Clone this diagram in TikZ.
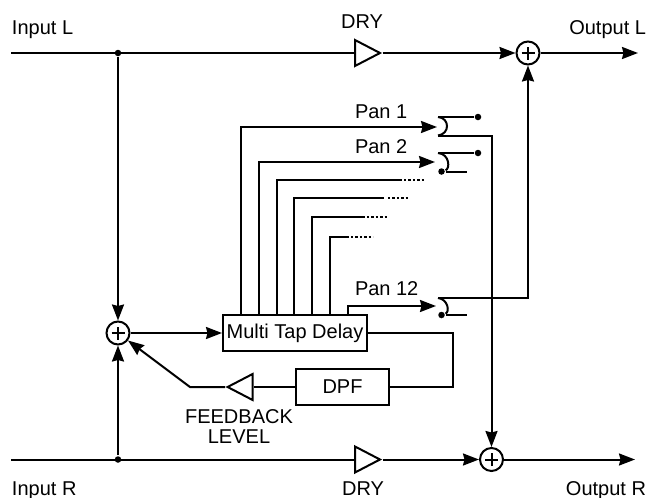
\documentclass[tikz,border=0pt]{standalone}
\usepackage{fontspec}
\setmainfont{Liberation Sans}
\usetikzlibrary{shapes, shapes.geometric, arrows.meta, positioning}

\begin{document}
\begin{tikzpicture}[x=1pt, y=-1pt, >={Stealth[length=16pt,width=12pt,inset=1.5pt]}, line width=2pt]

\tikzstyle{block} = [rectangle, draw=black, inner sep=0pt, font=\fontsize{20}{24}\selectfont]
\tikzstyle{label} = [inner sep=0pt, anchor=base west, font=\fontsize{20}{24}\selectfont]
\tikzstyle{sum} = [circle, draw=black, minimum size=23pt, inner sep=0pt, path picture={\draw ([xshift=-6.5pt]path picture bounding box.center) -- ([xshift=6.5pt]path picture bounding box.center); \draw ([yshift=-6.5pt]path picture bounding box.center) -- ([yshift=6.5pt]path picture bounding box.center);}]
\tikzstyle{amp} = [isosceles triangle, isosceles triangle stretches, draw=black, inner sep=0pt, minimum height=25pt, minimum width=26pt]
\tikzstyle{dot} = [circle, fill=black, inner sep=0pt, minimum size=6.5pt]
\tikzstyle{flow} = [->]
\tikzstyle{dots} = [dash pattern=on 2.4pt off 2pt]
\useasboundingbox (0,0) rectangle (649,498);

% blocks
\node (delay) [block, minimum width=144pt, minimum height=36pt] at (295,333) {Multi Tap Delay};
\node (dpf) [block, minimum width=93pt, minimum height=36pt] at (342.5,387) {DPF};
\node (fbamp) [amp, shape border rotate=180, anchor=apex] at (225,387) {};
\node (dryL) [amp, anchor=lower side] at (354,53) {};
\node (dryR) [amp, anchor=lower side] at (354,459.5) {};

% mixers
\node (sumL) [sum] at (528,53) {};
\node (sumR) [sum] at (491.5,459.5) {};
\node (sumFb) [sum] at (118,333) {};

% ends and branch points
\coordinate (inL) at (11,53);
\coordinate (inR) at (11,459.5);
\coordinate (outL) at (638,53);
\coordinate (outR) at (635,459.5);
\node (jL) [dot] at (118,53) {};
\node (jR) [dot] at (118,459.5) {};

% texts
\node (txtInL) [label] at (11,34) {Input L};
\node (txtOutL) [label, anchor=base east] at (647,34) {Output L};
\node (txtDryL) [label, anchor=base] at (362,28) {DRY};
\node (txtInR) [label] at (11,495) {Input R};
\node (txtOutR) [label, anchor=base east] at (647,495) {Output R};
\node (txtDryR) [label, anchor=base] at (363,495) {DRY};
\node (txtPan1) [label] at (354,118) {Pan 1};
\node (txtPan2) [label] at (354,153) {Pan 2};
\node (txtPan12) [label] at (354,295) {Pan 12};
\node (txtFb) [label, anchor=base] at (239,423) {FEEDBACK};
\node (txtLevel) [label, anchor=base] at (239,443) {LEVEL};

% main lines
\draw (inL) -- (dryL.lower side);
\draw [flow] (dryL.apex) -- (sumL);
\draw [flow] (sumL) -- (outL);
\draw (inR) -- (dryR.lower side);
\draw [flow] (dryR.apex) -- (sumR);
\draw [flow] (sumR) -- (outR);
\draw [flow] (jL) -- (sumFb);
\draw [flow] (jR) -- (sumFb);
\draw [flow] (sumFb) -- (delay);

% feedback
\coordinate (fbRight) at (453,333);
\coordinate (fbBend) at (190,387);
\draw (delay.east) -- (fbRight) |- (dpf.east);
\draw (dpf.west) -- (fbamp.lower side);
\draw [flow] (fbamp.apex) -- (fbBend) -- (sumFb);

% switches
\coordinate (sw1a) at (438,117);
\coordinate (sw1b) at (438,135.5);
\coordinate (sw2a) at (438,153);
\coordinate (sw12a) at (438,298);
\node (dot1) [dot] at (478,117) {};
\node (dot2) [dot] at (478,153) {};
\node (dot2b) [dot] at (441.5,171.5) {};
\node (dot12b) [dot] at (441.5,315) {};
\coordinate (end2b) at (467,171.5);
\coordinate (end12b) at (467,315);
\coordinate (sw1Right) at (491.5,135.5);
\coordinate (sw12Right) at (528,298);
\draw (sw1a) -- (dot1);
\draw (sw1a) .. controls (450,118) and (450,134) .. (sw1b);
\draw (sw2a) -- (dot2);
\draw (sw2a) .. controls (450,154) and (450,169) .. (dot2b);
\draw (dot2b) -- (end2b);
\draw (sw12a) .. controls (448,299) and (450,312) .. (dot12b);
\draw (dot12b) -- (end12b);
\draw [flow] (sw1b) -- (sw1Right) -- (sumR);
\draw [flow] (sw12a) -- (sw12Right) -- (sumL);

% taps
\coordinate (tap1) at (241,127);
\coordinate (tap2) at (259,162);
\coordinate (tap3) at (277,180);
\coordinate (tap4) at (294,198);
\coordinate (tap5) at (312,217);
\coordinate (tap6) at (330,237);
\coordinate (arrow1) at (437,127);
\coordinate (arrow2) at (435,162);
\coordinate (solid3) at (402,180);
\coordinate (solid4) at (384,198);
\coordinate (solid5) at (365,217);
\coordinate (solid6) at (349,237);
\coordinate (dots3) at (424,180);
\coordinate (dots4) at (409,198);
\coordinate (dots5) at (388,217);
\coordinate (dots6) at (373,237);
\draw [flow] (tap1 |- delay.north) -- (tap1) -- (arrow1);
\draw [flow] (tap2 |- delay.north) -- (tap2) -- (arrow2);
\draw (tap3 |- delay.north) -- (tap3) -- (solid3);
\draw (tap4 |- delay.north) -- (tap4) -- (solid4);
\draw (tap5 |- delay.north) -- (tap5) -- (solid5);
\draw (tap6 |- delay.north) -- (tap6) -- (solid6);
\draw [dots] (solid3) ++(2,0) -- (dots3);
\draw [dots] (solid4) ++(4,0) -- (dots4);
\draw [dots] (solid5) ++(2,0) -- (dots5);
\draw [dots] (solid6) ++(2,0) -- (dots6);
\coordinate (tap12) at (348,306);
\coordinate (arrow12) at (436,306);
\draw [flow] (tap12 |- delay.north) -- (tap12) -- (arrow12);

\end{tikzpicture}
\end{document}
